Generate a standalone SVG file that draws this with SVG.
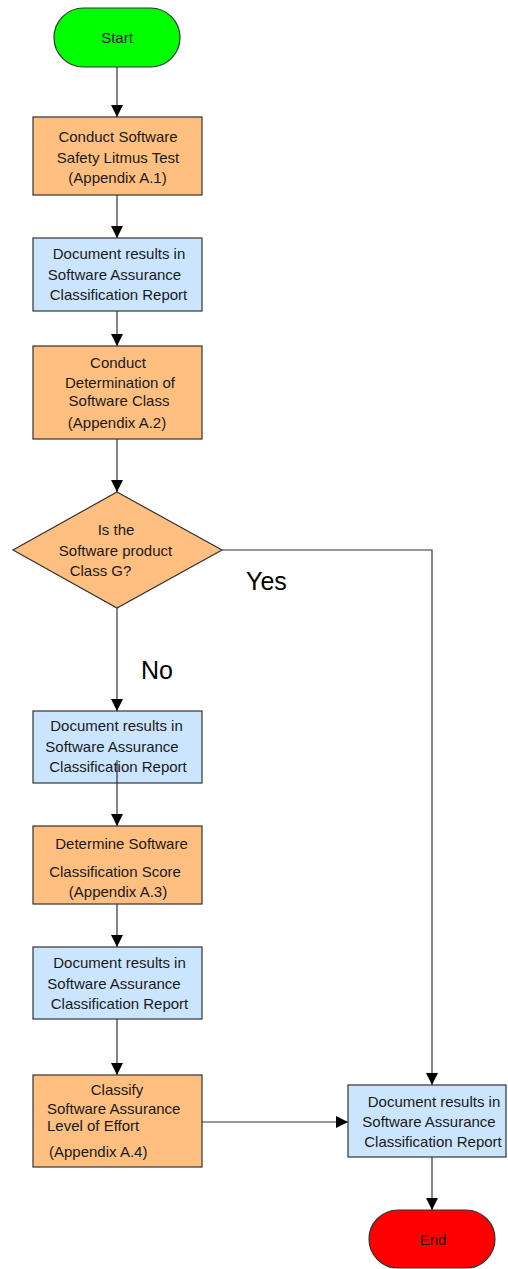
<svg xmlns="http://www.w3.org/2000/svg" width="508" height="1269" viewBox="0 0 508 1269">
<style>
text{font-family:"Liberation Sans",Arial,sans-serif;font-size:15px;fill:#1a1a1a}
.c{text-anchor:middle}
.big{font-size:25px;fill:#000}
.or{fill:#FFBF80;stroke:#333;stroke-width:1.2}
.bl{fill:#CCE5FF;stroke:#333;stroke-width:1.2}
.ln{fill:none;stroke:#333;stroke-width:1.2}
</style>
<defs>
<marker id="ah" markerUnits="userSpaceOnUse" markerWidth="12" markerHeight="12" refX="12" refY="6" orient="auto">
<path d="M0,0 L12,6 L0,12 z" fill="#000"/>
</marker>
</defs>
<rect width="508" height="1269" fill="#fff"/>
<g id="start"><rect x="54" y="8" width="126" height="59" rx="29.5" fill="#00FF00" stroke="#333" stroke-width="1.2"/><text class="c" x="117" y="43">Start</text></g>
<g id="litmus"><rect class="or" x="33" y="117" width="169" height="78"/>
<text class="c" x="118" y="142">Conduct Software</text><text class="c" x="118" y="163">Safety Litmus Test</text><text class="c" x="117.5" y="183">(Appendix A.1)</text></g>
<g id="doc1"><rect class="bl" x="33" y="238" width="169" height="73"/>
<text class="c" x="119" y="259">Document results in</text><text class="c" x="114.5" y="280">Software Assurance</text><text class="c" x="118.5" y="300">Classification Report</text></g>
<g id="class"><rect class="or" x="33" y="346" width="169" height="93"/>
<text class="c" x="118" y="368">Conduct</text><text class="c" x="120" y="388">Determination of</text><text class="c" x="119" y="406">Software Class</text><text class="c" x="117" y="428">(Appendix A.2)</text></g>
<g id="decision"><polygon class="or" points="117,492 222,550 117,608 13,550"/>
<text class="c" x="116" y="535">Is the</text><text class="c" x="115.5" y="556">Software product</text><text class="c" x="100.5" y="576">Class G?</text></g>
<g id="connectors">
<line class="ln" x1="117" y1="67" x2="117" y2="117" marker-end="url(#ah)"/>
<line class="ln" x1="117" y1="195" x2="117" y2="238" marker-end="url(#ah)"/>
<line class="ln" x1="117" y1="311" x2="117" y2="346" marker-end="url(#ah)"/>
<line class="ln" x1="117" y1="439" x2="117" y2="492" marker-end="url(#ah)"/>
<line class="ln" x1="117" y1="608" x2="117" y2="711" marker-end="url(#ah)"/>
<line class="ln" x1="117" y1="904" x2="117" y2="947" marker-end="url(#ah)"/>
<line class="ln" x1="117" y1="1019" x2="117" y2="1075" marker-end="url(#ah)"/>
<polyline class="ln" points="222,550 432,550 432,1085" marker-end="url(#ah)"/>
<line class="ln" x1="202" y1="1122" x2="348" y2="1122" marker-end="url(#ah)"/>
<line class="ln" x1="432" y1="1157" x2="432" y2="1210" marker-end="url(#ah)"/>
<text class="big" x="246" y="590">Yes</text>
<text class="big" x="141" y="679">No</text>
</g>
<g id="doc2"><rect class="bl" x="33" y="711" width="169" height="72"/>
<text class="c" x="116.5" y="731">Document results in</text><text class="c" x="112" y="752">Software Assurance</text><text class="c" x="118" y="772">Classification Report</text></g>
<line class="ln" x1="117" y1="760" x2="117" y2="826" marker-end="url(#ah)"/>
<g id="score"><rect class="or" x="33" y="826" width="169" height="78"/>
<text class="c" x="121.5" y="849">Determine Software</text><text class="c" x="115" y="877">Classification Score</text><text class="c" x="118" y="897">(Appendix A.3)</text></g>
<g id="doc3"><rect class="bl" x="33" y="947" width="169" height="72"/>
<text class="c" x="119.5" y="968">Document results in</text><text class="c" x="114" y="989">Software Assurance</text><text class="c" x="119.5" y="1009">Classification Report</text></g>
<g id="effort"><rect class="or" x="33" y="1075" width="169" height="92"/>
<text class="c" x="117" y="1095">Classify</text><text x="47" y="1114">Software Assurance</text><text x="47" y="1131">Level of Effort</text><text x="49" y="1157">(Appendix A.4)</text></g>
<g id="doc4"><rect class="bl" x="348" y="1085" width="158" height="72"/>
<text class="c" x="434" y="1107">Document results in</text><text class="c" x="429" y="1127">Software Assurance</text><text class="c" x="433" y="1147">Classification Report</text></g>
<g id="end"><rect x="369" y="1210" width="126" height="58" rx="29" fill="#FF0000" stroke="#333" stroke-width="1.2"/><text class="c" x="433" y="1245">End</text></g>
</svg>
